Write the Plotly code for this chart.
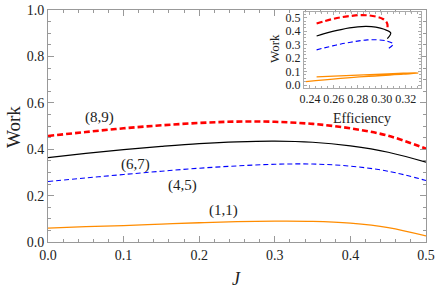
import plotly.graph_objects as go

J = [0.0, 0.05, 0.1, 0.15, 0.2, 0.25, 0.3, 0.35, 0.4, 0.45, 0.5]

work_89 = [0.457, 0.474, 0.490, 0.503, 0.513, 0.519, 0.518, 0.509, 0.490, 0.458, 0.402]
work_67 = [0.364, 0.382, 0.398, 0.412, 0.424, 0.432, 0.435, 0.430, 0.414, 0.387, 0.344]
work_45 = [0.261, 0.276, 0.291, 0.305, 0.318, 0.328, 0.335, 0.336, 0.327, 0.305, 0.265]
work_11 = [0.060, 0.066, 0.071, 0.077, 0.083, 0.088, 0.090, 0.089, 0.081, 0.062, 0.026]

eff_89 = [0.2456, 0.252, 0.259, 0.266, 0.274, 0.281, 0.288, 0.295, 0.301, 0.3045, 0.3045]
eff_67 = [0.2456, 0.252, 0.259, 0.266, 0.273, 0.280, 0.287, 0.295, 0.302, 0.3075, 0.3046]
eff_45 = [0.2456, 0.252, 0.259, 0.266, 0.274, 0.281, 0.288, 0.296, 0.304, 0.3095, 0.3046]
eff_11 = [0.2456, 0.260, 0.275, 0.290, 0.305, 0.318, 0.328, 0.3305, 0.318, 0.285, 0.2366]

labels = ["(8,9)", "(6,7)", "(4,5)", "(1,1)"]
label_J = [0.068, 0.116, 0.178, 0.232]
label_W = [0.535, 0.335, 0.242, 0.134]

series = [
    (work_89, eff_89, dict(color="#ff0000", width=2.6, dash="6px,3px")),
    (work_67, eff_67, dict(color="#000000", width=1.2)),
    (work_45, eff_45, dict(color="#0000ff", width=1.1, dash="5px,3px")),
    (work_11, eff_11, dict(color="#ff8c00", width=1.3)),
]

fig = go.Figure()
for w, e, ln in series:
    fig.add_trace(go.Scatter(x=J, y=w, mode="lines", line=dict(shape="spline", **ln),
                             xaxis="x", yaxis="y", showlegend=False, hoverinfo="skip"))
for w, e, ln in series:
    ln2 = dict(ln)
    if ln2["width"] > 2:
        ln2["width"] = 2.2
    fig.add_trace(go.Scatter(x=e, y=w, mode="lines", line=dict(shape="spline", **ln2),
                             xaxis="x2", yaxis="y2", showlegend=False, hoverinfo="skip"))

SERIF = "serif"
frame = "#999999"
txt = "#222222"

for t, xj, yw in zip(labels, label_J, label_W):
    fig.add_annotation(x=xj, y=yw, xref="x", yref="y", text=t, showarrow=False,
                       xanchor="center", yanchor="middle",
                       font=dict(family=SERIF, size=15, color=txt))

W_PX, H_PX = 436, 291
L, R, T, B = 48, 10, 10, 49
def px(xp):
    return (xp - L) / (W_PX - L - R)
def py(yp):
    return (H_PX - B - yp) / (H_PX - T - B)

def label(xp, yp, text, size, angle=0):
    fig.add_annotation(x=px(xp), y=py(yp), xref="paper", yref="paper", text=text,
                       textangle=angle, xanchor="center", yanchor="middle", showarrow=False,
                       font=dict(family=SERIF, size=size, color=txt))

label(13, 127, "Work", 19, -90)
label(236, 279, "<i>J</i>", 18)
label(362, 118, "Efficiency", 14)
label(274, 49, "Work", 13, -90)

fig.update_layout(
    width=W_PX, height=H_PX,
    margin=dict(l=L, r=R, t=T, b=B),
    paper_bgcolor="white", plot_bgcolor="white",
    font=dict(family=SERIF, color=txt),
    xaxis=dict(range=[0, 0.5], dtick=0.1, tickformat=".1f", showgrid=False, zeroline=False,
               automargin=False,
               showline=True, linecolor=frame, linewidth=1, mirror="allticks",
               ticks="inside", ticklen=6, tickcolor=frame,
               minor=dict(dtick=0.02, ticks="inside", ticklen=3, tickcolor=frame),
               tickfont=dict(size=14, family=SERIF, color=txt)),
    yaxis=dict(range=[0, 1], dtick=0.2, tickformat=".1f", showgrid=False, zeroline=False,
               automargin=False,
               showline=True, linecolor=frame, linewidth=1, mirror="allticks",
               ticks="inside", ticklen=6, tickcolor=frame,
               minor=dict(dtick=0.05, ticks="inside", ticklen=3, tickcolor=frame),
               tickfont=dict(size=14, family=SERIF, color=txt)),
    xaxis2=dict(domain=[0.677, 0.986], anchor="y2", range=[0.235, 0.3325], dtick=0.02,
                tick0=0.24, tickformat=".2f", showgrid=False, zeroline=False,
                automargin=False,
                showline=True, linecolor="#aaaaaa", linewidth=1, mirror="allticks",
                ticks="inside", ticklen=3, tickcolor="#aaaaaa",
                minor=dict(dtick=0.005, ticks="inside", ticklen=2, tickcolor="#aaaaaa"),
                tickfont=dict(size=12, family=SERIF, color=txt)),
    yaxis2=dict(domain=[0.665, 0.990], anchor="x2", range=[-0.02, 0.54], dtick=0.1,
                tickformat=".1f", showgrid=False, zeroline=False,
                automargin=False,
                showline=True, linecolor="#aaaaaa", linewidth=1, mirror="allticks",
                ticks="inside", ticklen=3, tickcolor="#aaaaaa",
                minor=dict(dtick=0.025, ticks="inside", ticklen=2, tickcolor="#aaaaaa"),
                tickfont=dict(size=12, family=SERIF, color=txt)),
)

fig.write_html("out.html", config={"displayModeBar": False},
               post_script="document.body.style.margin='0px';")
